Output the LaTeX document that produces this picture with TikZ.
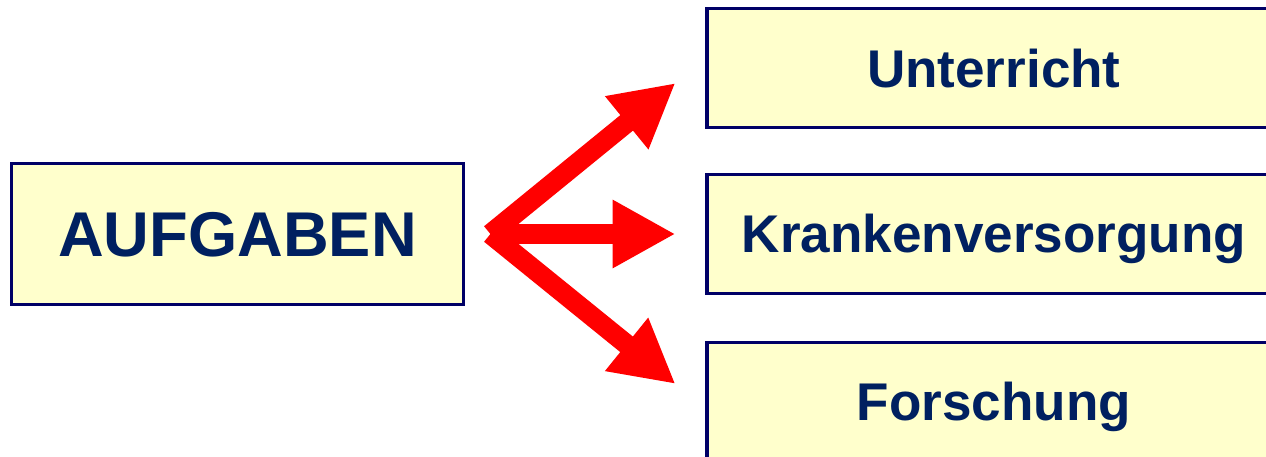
\documentclass[tikz,border=0pt]{standalone}
\usepackage{fontspec}
\setmainfont{Liberation Sans}
\usepackage{tikz}
\usetikzlibrary{arrows.meta,positioning}
\definecolor{boxfill}{HTML}{FFFFCC}
\definecolor{boxline}{HTML}{000066}
\definecolor{boxtext}{HTML}{002060}

\begin{document}
\begin{tikzpicture}[x=0.02cm, y=-0.02cm,
box/.style={rectangle, draw=boxline, fill=boxfill, line width=2.2pt, text=boxtext, font=\bfseries\fontsize{30.2}{34}\selectfont, text height=21.6pt, text depth=0pt, minimum width=11.46cm, minimum height=2.38cm},
pfeil/.style={draw=red, line width=0.4cm, -{Triangle[length=1.26cm, width=1.28cm]}}
]
\useasboundingbox (0,0) rectangle (1266,456);
\clip (0,0) rectangle (1266,456);
%Nodes
\node[box, minimum width=9.04cm, minimum height=2.82cm, font=\bfseries\fontsize{36}{40}\selectfont, text height=25.8pt]
                 (aufgaben)   at (237.5,234)                         {AUFGABEN};
\node[box]       (krank)      [right of =aufgaben, xshift= 14.13cm]  {Krankenversorgung};
\node[box]       (unterricht) [above of =krank, yshift= 2.32cm]      {Unterricht};
\node[box]       (forschung)  [below of =krank, yshift= -2.36cm]     {Forschung};
%Points
\coordinate (hub)  at ([xshift=0.5cm]aufgaben.east);
\coordinate (tipU) at ([xshift=-0.6cm, yshift=-0.3cm]unterricht.west);
\coordinate (tipK) at ([xshift=-0.6cm]krank.west);
\coordinate (tipF) at ([xshift=-0.6cm, yshift=0.36cm]forschung.west);
%Lines
\draw[pfeil] (hub) -- (tipU);
\draw[pfeil] (hub) -- (tipK);
\draw[pfeil] (hub) -- (tipF);
\end{tikzpicture}
\end{document}
